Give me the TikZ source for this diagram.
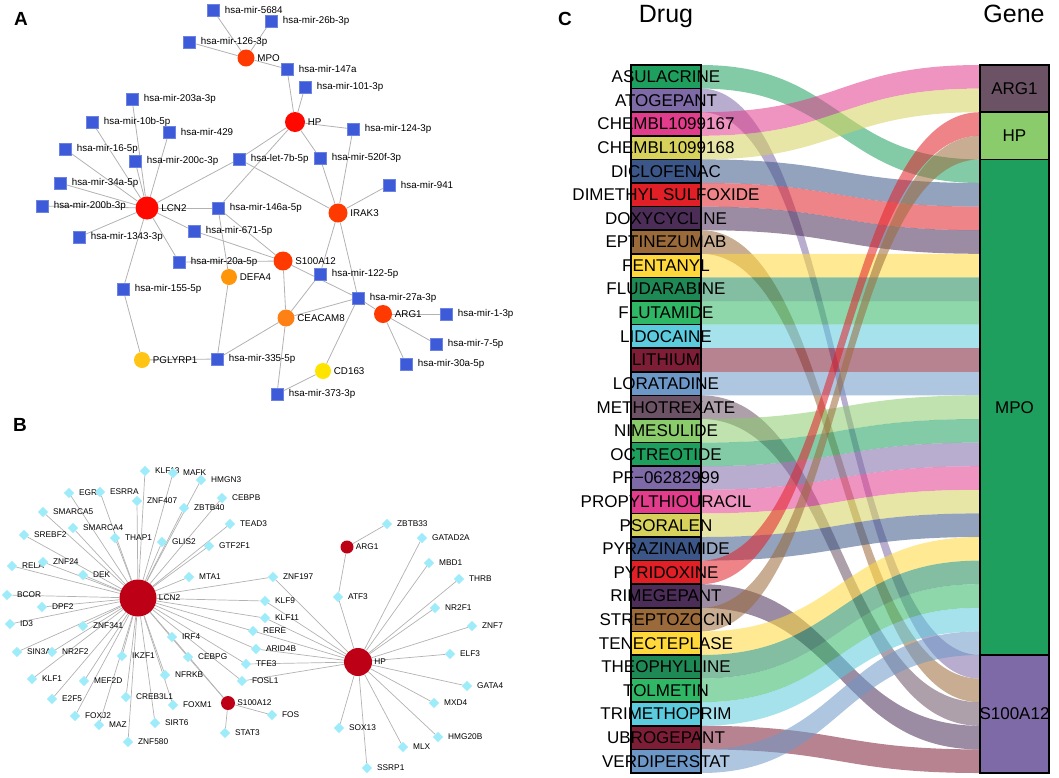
\documentclass[tikz,border=0pt]{standalone}
\usepackage{fontspec}
\setmainfont{Liberation Sans}
\usepackage{tikz}
\usetikzlibrary{shapes.geometric,positioning}
\pgfdeclarelayer{bg}
\pgfsetlayers{bg,main}

\definecolor{mirblue}{RGB}{61,90,216}
\definecolor{tfcyan}{RGB}{158,236,250}
\definecolor{tfred}{RGB}{190,0,22}
\definecolor{hubred}{RGB}{255,8,0}
\definecolor{hubor}{RGB}{255,58,0}
\definecolor{ceaor}{RGB}{255,128,20}
\definecolor{defor}{RGB}{255,150,10}
\definecolor{pgyel}{RGB}{255,196,20}
\definecolor{cdyel}{RGB}{255,228,0}
% sankey palette
\definecolor{pal0}{HTML}{1E9F5E}
\definecolor{pal1}{HTML}{7D6AA6}
\definecolor{pal2}{HTML}{E23C8C}
\definecolor{pal3}{HTML}{D6D25C}
\definecolor{pal4}{HTML}{3B5687}
\definecolor{pal5}{HTML}{E11F27}
\definecolor{pal6}{HTML}{4B2D57}
\definecolor{pal7}{HTML}{9A6A3A}
\definecolor{pal8}{HTML}{FFD93B}
\definecolor{pal9}{HTML}{1F8956}
\definecolor{pal10}{HTML}{30B765}
\definecolor{pal11}{HTML}{5CCBDD}
\definecolor{pal12}{HTML}{7D1D36}
\definecolor{pal13}{HTML}{6C97C6}
\definecolor{pal14}{HTML}{6C5265}
\definecolor{pal15}{HTML}{8ACB6B}

\def\druglist{ASULACRINE/4,ATOGEPANT/25,CHEMBL1099167/0,CHEMBL1099168/1,DICLOFENAC/5,DIMETHYL SULFOXIDE/6,DOXYCYCLINE/7,EPTINEZUMAB/26,FENTANYL/8,FLUDARABINE/9,FLUTAMIDE/10,LIDOCAINE/11,LITHIUM/12,LORATADINE/13,METHOTREXATE/27,NIMESULIDE/14,OCTREOTIDE/15,PF−06282999/16,PROPYLTHIOURACIL/17,PSORALEN/18,PYRAZINAMIDE/19,PYRIDOXINE/2,RIMEGEPANT/28,STREPTOZOCIN/3,TENECTEPLASE/20,THEOPHYLLINE/21,TOLMETIN/22,TRIMETHOPRIM/23,UBROGEPANT/29,VERDIPERSTAT/24}

\begin{document}
\begin{tikzpicture}[x=1pt,y=-1pt,
	alab/.style={font=\fontsize{9.8}{10}\selectfont,inner sep=1},
	blab/.style={font=\fontsize{8.3}{9}\selectfont,inner sep=1},
	mir/.style={rectangle,fill=mirblue,draw=mirblue!75!white,line width=0.4,minimum size=12,inner sep=0,label={[alab,xshift=4.5]right:#1}},
	hub/.style n args={3}{circle,fill=#1,minimum size=#2,inner sep=0,label={[alab,xshift=1.5]right:#3}},
	tf/.style={diamond,fill=tfcyan,minimum size=10.5,inner sep=0,label={[blab,xshift=3.5]right:#1}},
	tg/.style n args={2}{circle,fill=tfred,minimum size=#1,inner sep=0,label={[blab,xshift=1]right:#2}},
	linkA/.style={color=black!30,line width=0.8},
	linkB/.style={color=black!30,line width=0.7},
	panel/.style={font=\fontsize{19}{19}\selectfont\bfseries},
	drugbox/.style={draw=black,line width=1.5},
	druglab/.style={font=\fontsize{17}{17}\selectfont,inner sep=0},
	head/.style={anchor=base,font=\fontsize{25}{25}\selectfont}]
			\useasboundingbox (0,0) rectangle (1059,777);
			
			% A: miRNA network
			\node[panel] (labA) at (21,19) {A};
			\node[mir=hsa-mir-5684] (m5684) at (213,10) {};
			\node[mir=hsa-mir-26b-3p] (m26b) at (271,21) {};
			\node[mir=hsa-mir-126-3p] (m126) at (189,42) {};
			\node[hub={hubor}{17}{MPO}] (MPO) at (246,58) {};
			\node[mir=hsa-mir-147a] (m147a) at (287,69) {};
			\node[mir=hsa-mir-101-3p] (m101) at (305,87) {};
			\node[hub={hubred}{20}{HP}] (HP) at (295,122) {};
			\node[mir=hsa-mir-124-3p] (m124) at (353,129) {};
			\node[mir=hsa-mir-520f-3p] (m520f) at (320,158) {};
			\node[mir=hsa-mir-941] (m941) at (389,185) {};
			\node[mir=hsa-mir-203a-3p] (m203a) at (132,99) {};
			\node[mir=hsa-mir-10b-5p] (m10b) at (92,122) {};
			\node[mir=hsa-mir-429] (m429) at (169,132) {};
			\node[mir=hsa-mir-16-5p] (m16) at (65,149) {};
			\node[mir=hsa-mir-200c-3p] (m200c) at (135,161) {};
			\node[mir=hsa-let-7b-5p] (let7b) at (239,159) {};
			\node[mir=hsa-mir-34a-5p] (m34a) at (60,183) {};
			\node[hub={hubred}{23}{LCN2}] (LCN2) at (147,208) {};
			\node[mir=hsa-mir-200b-3p] (m200b) at (42,206) {};
			\node[mir=hsa-mir-146a-5p] (m146a) at (218,208) {};
			\node[mir=hsa-mir-1343-3p] (m1343) at (79,237) {};
			\node[mir=hsa-mir-671-5p] (m671) at (194,231) {};
			\node[mir=hsa-mir-20a-5p] (m20a) at (179,262) {};
			\node[hub={defor}{16}{DEFA4}] (DEFA4) at (229,277) {};
			\node[mir=hsa-mir-155-5p] (m155) at (123,289) {};
			\node[hub={pgyel}{16}{PGLYRP1}] (PGLYRP1) at (142,360) {};
			\node[mir=hsa-mir-335-5p] (m335) at (217,359) {};
			\node[hub={hubor}{19}{IRAK3}] (IRAK3) at (338,213) {};
			\node[hub={hubor}{19}{S100A12}] (S100A12) at (283,261) {};
			\node[mir=hsa-mir-122-5p] (m122) at (320,274) {};
			\node[mir=hsa-mir-27a-3p] (m27a) at (358,298) {};
			\node[hub={hubor}{18}{ARG1}] (ARG1) at (383,314) {};
			\node[mir=hsa-mir-1-3p] (m1) at (446,314) {};
			\node[mir=hsa-mir-7-5p] (m7) at (436,344) {};
			\node[mir=hsa-mir-30a-5p] (m30a) at (406,364) {};
			\node[hub={ceaor}{17}{CEACAM8}] (CEACAM8) at (286,318) {};
			\node[hub={cdyel}{16}{CD163}] (CD163) at (323,371) {};
			\node[mir=hsa-mir-373-3p] (m373) at (277,394) {};
			
			% B: TF network
			\node[panel] (labB) at (20,425) {B};
			\node[tg={37}{LCN2}] (lcn2b) at (138,598) {};
			\node[tg={28}{HP}] (hpb) at (358,662) {};
			\node[tg={13}{ARG1}] (arg1b) at (347,547) {};
			\node[tg={14}{S100A12}] (s100b) at (228,703) {};
			\node[tf=KLF13] (klf13) at (145,471) {};
			\node[tf=MAFK] (mafk) at (173,473) {};
			\node[tf=HMGN3] (hmgn3) at (201,480) {};
			\node[tf=EGR1] (egr1) at (69,493) {};
			\node[tf=ESRRA] (esrra) at (100,492) {};
			\node[tf=ZNF407] (znf407) at (137,501) {};
			\node[tf=CEBPB] (cebpb) at (222,498) {};
			\node[tf=ZBTB40] (zbtb40) at (184,508) {};
			\node[tf=SMARCA5] (smarca5) at (43,512) {};
			\node[tf=TEAD3] (tead3) at (230,524) {};
			\node[tf=SMARCA4] (smarca4) at (73,528) {};
			\node[tf=THAP1] (thap1) at (115,538) {};
			\node[tf=GLIS2] (glis2) at (162,542) {};
			\node[tf=SREBF2] (srebf2) at (24,535) {};
			\node[tf=GTF2F1] (gtf2f1) at (209,546) {};
			\node[tf=RELA] (rela) at (12,566) {};
			\node[tf=ZNF24] (znf24) at (43,562) {};
			\node[tf=DEK] (dek) at (83,575) {};
			\node[tf=MTA1] (mta1) at (189,577) {};
			\node[tf=BCOR] (bcor) at (7,595) {};
			\node[tf=DPF2] (dpf2) at (42,607) {};
			\node[tf=ID3] (id3) at (10,624) {};
			\node[tf=ZNF341] (znf341) at (83,626) {};
			\node[tf=SIN3A] (sin3a) at (17,652) {};
			\node[tf=NR2F2] (nr2f2) at (52,652) {};
			\node[tf=IKZF1] (ikzf1) at (122,656) {};
			\node[tf=IRF4] (irf4) at (172,637) {};
			\node[tf=CEBPG] (cebpg) at (188,657) {};
			\node[tf=KLF1] (klf1) at (32,679) {};
			\node[tf=MEF2D] (mef2d) at (84,681) {};
			\node[tf=NFRKB] (nfrkb) at (165,675) {};
			\node[tf=E2F5] (e2f5) at (52,699) {};
			\node[tf=CREB3L1] (creb3l1) at (126,697) {};
			\node[tf=FOXM1] (foxm1) at (173,705) {};
			\node[tf=FOXJ2] (foxj2) at (75,716) {};
			\node[tf=MAZ] (maz) at (99,725) {};
			\node[tf=SIRT6] (sirt6) at (155,723) {};
			\node[tf=ZNF580] (znf580) at (128,742) {};
			\node[tf=STAT3] (stat3) at (225,733) {};
			\node[tf=TFE3] (tfe3) at (246,664) {};
			\node[tf=FOSL1] (fosl1) at (242,681) {};
			\node[tf=ARID4B] (arid4b) at (256,649) {};
			\node[tf=RERE] (rere) at (253,631) {};
			\node[tf=ZNF197] (znf197) at (273,577) {};
			\node[tf=ATF3] (atf3) at (338,597) {};
			\node[tf=KLF9] (klf9) at (265,601) {};
			\node[tf=KLF11] (klf11) at (265,618) {};
			\node[tf=FOS] (fos) at (272,715) {};
			\node[tf=SOX13] (sox13) at (339,728) {};
			\node[tf=SSRP1] (ssrp1) at (367,768) {};
			\node[tf=MLX] (mlx) at (403,747) {};
			\node[tf=HMG20B] (hmg20b) at (438,737) {};
			\node[tf=MXD4] (mxd4) at (434,703) {};
			\node[tf=GATA4] (gata4) at (467,686) {};
			\node[tf=ELF3] (elf3) at (450,654) {};
			\node[tf=ZNF7] (znf7) at (472,626) {};
			\node[tf=NR2F1] (nr2f1) at (435,608) {};
			\node[tf=THRB] (thrb) at (459,579) {};
			\node[tf=MBD1] (mbd1) at (429,563) {};
			\node[tf=GATAD2A] (gatad2a) at (422,538) {};
			\node[tf=ZBTB33] (zbtb33) at (387,524) {};
			
			\begin{pgfonlayer}{bg}
			\foreach \t in {m5684,m26b,m126,m147a} \path[linkA](MPO) edge (\t);
			\foreach \t in {m147a,m101,m124,m520f,let7b,m146a} \path[linkA](HP) edge (\t);
			\foreach \t in {let7b,m520f,m124,m941,m122,m27a} \path[linkA](IRAK3) edge (\t);
			\foreach \t in {m203a,m10b,m429,m16,m200c,m34a,m200b,m1343,let7b,m146a,m671,m20a,m155} \path[linkA](LCN2) edge (\t);
			\foreach \t in {m146a,m671,m20a,m27a,CEACAM8} \path[linkA](S100A12) edge (\t);
			\foreach \t in {m122,m27a,m335,m373} \path[linkA](CEACAM8) edge (\t);
			\foreach \t in {m27a,m1,m7,m30a} \path[linkA](ARG1) edge (\t);
			\path[linkA](DEFA4) edge (m146a);
			\path[linkA](DEFA4) edge (m335);
			\path[linkA](PGLYRP1) edge (m155);
			\path[linkA](PGLYRP1) edge (m335);
			\path[linkA](CD163) edge (m27a);
			\path[linkA](CD163) edge (m373);
			
			\foreach \t in {klf13,mafk,hmgn3,egr1,esrra,znf407,cebpb,zbtb40,smarca5,tead3,smarca4,thap1,glis2,srebf2,gtf2f1,rela,znf24,dek,mta1,bcor,dpf2,id3,znf341,sin3a,nr2f2,ikzf1,irf4,cebpg,klf1,mef2d,nfrkb,e2f5,creb3l1,foxm1,foxj2,maz,sirt6,znf580,znf197,klf9,klf11,rere,arid4b,tfe3,fosl1} \path[linkB](lcn2b) edge (\t);
			\foreach \t in {znf197,klf9,klf11,rere,arid4b,tfe3,fosl1,atf3,gatad2a,mbd1,thrb,nr2f1,znf7,elf3,gata4,mxd4,hmg20b,mlx,ssrp1,sox13} \path[linkB](hpb) edge (\t);
			\foreach \t in {zbtb33,atf3} \path[linkB](arg1b) edge (\t);
			\foreach \t in {irf4,cebpg,fos,stat3} \path[linkB](s100b) edge (\t);
			\end{pgfonlayer}
			
			% C: drug-gene sankey
			\node[panel] (labC) at (565,19) {C};
			\node[head] (drug) at (666,22) {Drug};
			\node[head] (gene) at (1014,22) {Gene};
			\foreach \drug/\slot [count=\i from 0] in \druglist {
				\pgfmathtruncatemacro\c{mod(\i,16)}
				\pgfmathsetmacro\ya{65+23.6*\i}
				\pgfmathsetmacro\yb{65+23.6*\slot}
				\fill[fill=pal\c,opacity=.55] (701,\ya) .. controls (840,\ya) and (840,\yb) .. (980,\yb) -- (980,\yb+23.6) .. controls (840,\yb+23.6) and (840,\ya+23.6) .. (701,\ya+23.6) -- cycle;
			}
			\foreach \drug/\slot [count=\i from 0] in \druglist {
				\pgfmathtruncatemacro\c{mod(\i,16)}
				\pgfmathsetmacro\ya{65+23.6*\i}
				\draw[drugbox,fill=pal\c] (631,\ya) rectangle (701,\ya+23.6);
				\node[druglab] at (666,\ya+11.8) {\drug};
			}
			\draw[drugbox,fill=pal14] (980,65) rectangle (1049,112.2);
			\draw[drugbox,fill=pal15] (980,112.2) rectangle (1049,159.4);
			\draw[drugbox,fill=pal0] (980,159.4) rectangle (1049,655);
			\draw[drugbox,fill=pal1] (980,655) rectangle (1049,773);
			\node[druglab] (g-arg1) at (1014.5,88.6) {ARG1};
			\node[druglab] (g-hp) at (1014.5,135.8) {HP};
			\node[druglab] (g-mpo) at (1014.5,407.2) {MPO};
			\node[druglab] (g-s100) at (1014.5,714) {S100A12};
\end{tikzpicture}
\end{document}
